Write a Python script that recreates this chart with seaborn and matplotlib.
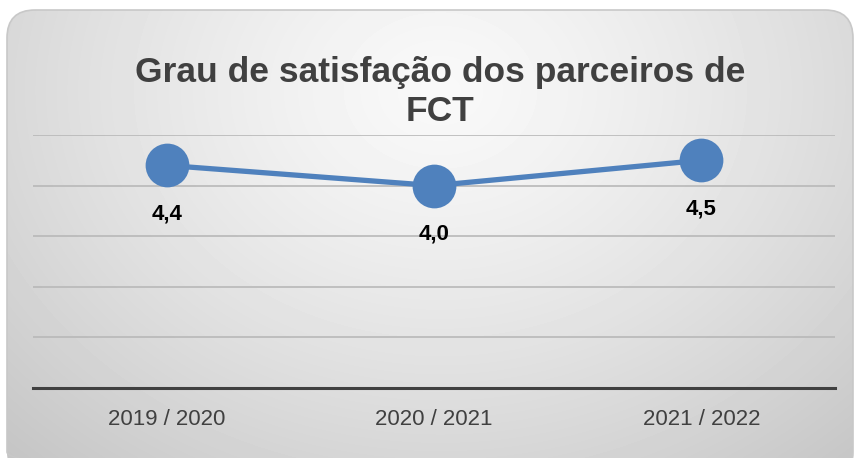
import numpy as np
import matplotlib
matplotlib.use("Agg")
import matplotlib.pyplot as plt
import seaborn as sns
from matplotlib.patches import FancyBboxPatch

# dados do gráfico
anos = ['2019 / 2020', '2020 / 2021', '2021 / 2022']
satisfacao = [4.4, 4.0, 4.5]
titulo = "Grau de satisfação dos parceiros de\nFCT"

sns.set_theme(style="white")
plt.rcParams['font.family'] = ['Liberation Sans', 'DejaVu Sans']

W, H = 855, 458
fig = plt.figure(figsize=(W / 100, H / 100), dpi=100)
fig.patch.set_facecolor("white")

# fundo com gradiente radial dentro de um retângulo arredondado
bg = fig.add_axes([0, 0, 1, 1])
bg.set_xlim(0, W)
bg.set_ylim(H, 0)
bg.axis("off")
yy, xx = np.mgrid[0:H, 0:W]
d = np.sqrt(((xx - 440) / 520) ** 2 + ((yy - 90) / 420) ** 2)
grad = np.clip(0.975 - 0.16 * d ** 1.3, 0.74, 1.0)
im = bg.imshow(grad, cmap="gray", vmin=0, vmax=1, extent=(0, W, H, 0), zorder=0)
box = FancyBboxPatch((7, 10), 846, 470, boxstyle="round,pad=0,rounding_size=28",
                     facecolor="none", edgecolor="#c8c8c8", lw=1.2, zorder=1)
bg.add_patch(box)
im.set_clip_path(box)

# gráfico de linha
ax = fig.add_axes([33 / W, 1 - 388 / H, (835 - 33) / W, (388 - 135) / H])
ax.patch.set_alpha(0)
sns.lineplot(x=anos, y=satisfacao, ax=ax, color="#4f81bd", linewidth=3.8,
             marker="o", markersize=31.5, markeredgewidth=0, sort=False, zorder=3)
ax.set_xlim(-0.5, 2.5)
ax.set_ylim(0, 5)
ax.set_yticks([0, 1, 2, 3, 4, 5])
ax.set_yticklabels([])
ax.tick_params(axis="y", length=0)
ax.tick_params(axis="x", length=0, labelsize=16, colors="#404040", pad=15)
ax.yaxis.grid(True, color="#b8b8b8", linewidth=1.2)
ax.set_xlabel("")
ax.set_ylabel("")
for s in ["top", "left", "right"]:
    ax.spines[s].set_visible(False)
ax.spines["bottom"].set_color("#404040")
ax.spines["bottom"].set_linewidth(2.2)
ax.spines["bottom"].set_zorder(4)

# rótulos de valor
for i, v in enumerate(satisfacao):
    ax.annotate(f"{v:.1f}".replace(".", ","), (i, v), xytext=(0, -35),
                textcoords="offset points", ha="center", va="center",
                fontsize=16, fontweight="bold", color="black")

fig.text(440 / W, 1 - 92 / H, titulo, ha="center", va="center",
         fontsize=25.5, fontweight="bold", color="#404040", linespacing=1.2)

fig.savefig("out.png", dpi=100)
